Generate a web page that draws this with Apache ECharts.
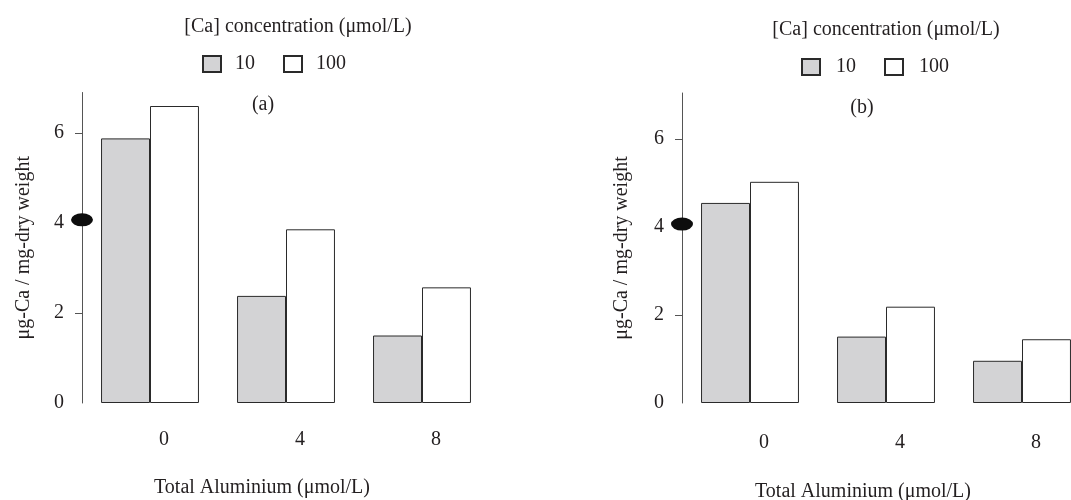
<!DOCTYPE html>
<html>
<head>
<meta charset="utf-8">
<script src="https://cdn.jsdelivr.net/npm/echarts@6/dist/echarts.min.js"></script>
<style>html,body{margin:0;padding:0;background:#fff}#c{width:1071px;height:500px}</style>
</head>
<body>
<div id="c"></div>
<script>
// ---- data ----
var categories = ['0', '4', '8'];
var seriesNames = ['10', '100'];
var panelA_ca10 = [5.88, 2.38, 1.5];
var panelA_ca100 = [6.6, 3.86, 2.57];
var panelB_ca10 = [4.55, 1.51, 0.96];
var panelB_ca100 = [5.03, 2.19, 1.45];
var markerValues = [4.07, 4.07];
var yTickValues = [0, 2, 4, 6];
var yMinorTicks = [2, 4, 6];
var panelLabels = ['(a)', '(b)'];
var legendTitle = '[Ca] concentration (\u03bcmol/L)';
var yAxisTitle = '\u03bcg-Ca / mg-dry weight';
var xAxisTitle = 'Total Aluminium (\u03bcmol/L)';

var FONT = "'Liberation Serif', 'Times New Roman', serif";
var TXT = '#231f20';
var GRAY = '#d3d3d5';
var EDGE = '#2a2a2a';

var chart = echarts.init(document.getElementById('c'), null, {renderer: 'canvas'});

function yAxis(gridIndex, max, gap) {
  return {
    type: 'value', gridIndex: gridIndex, min: 0, max: max,
    axisLine: {show: true, lineStyle: {color: '#555', width: 1}},
    axisTick: {show: true, length: 7, customValues: yMinorTicks, lineStyle: {color: '#555'}},
    axisLabel: {customValues: yTickValues, margin: 18, color: TXT, fontSize: 20, fontFamily: FONT},
    splitLine: {show: false},
    name: yAxisTitle, nameLocation: 'middle', nameGap: gap,
    nameTextStyle: {color: TXT, fontSize: 20, fontFamily: FONT}
  };
}
function xCat(gridIndex, margin) {
  return {
    type: 'category', gridIndex: gridIndex, data: categories,
    axisLine: {show: false}, axisTick: {show: false},
    axisLabel: {margin: margin, color: TXT, fontSize: 20, fontFamily: FONT, padding: [0, 0, 0, 28]}
  };
}
function xHidden(gridIndex) {
  return {type: 'value', gridIndex: gridIndex, min: 0, max: 1, show: false};
}
function bars(name, data, xi, yi, fill) {
  return {
    type: 'bar', name: name, data: data, xAxisIndex: xi, yAxisIndex: yi,
    barGap: '0%', barCategoryGap: '28%',
    itemStyle: {color: fill, borderColor: EDGE, borderWidth: 1},
    emphasis: {disabled: true}, animation: false
  };
}
function marker(v, xi, yi) {
  return {
    type: 'scatter', xAxisIndex: xi, yAxisIndex: yi, data: [[0, v]],
    symbol: 'circle', symbolSize: [22, 13], itemStyle: {color: '#0d0d0d', opacity: 1},
    animation: false, silent: true, z: 5
  };
}
function legend(left, top, padLeft) {
  return {
    left: left, top: top, padding: 0, itemWidth: 18, itemHeight: 16, itemGap: 28,
    icon: 'rect', data: seriesNames, selectedMode: false,
    textStyle: {color: TXT, fontSize: 20, fontFamily: FONT, padding: [0, 0, 0, padLeft]}
  };
}
function txt(s, x, y) {
  return {type: 'text', x: x, y: y, silent: true,
    style: {text: s, align: 'center', verticalAlign: 'middle', fontSize: 20, fontFamily: FONT, fill: TXT}};
}

chart.setOption({
  animation: false,
  backgroundColor: '#fff',
  grid: [
    {left: 82, top: 92.5, width: 408, height: 310.5, containLabel: false, outerBoundsMode: 'none'},
    {left: 682, top: 93, width: 408, height: 310, containLabel: false, outerBoundsMode: 'none'}
  ],
  xAxis: [xCat(0, 27), xCat(1, 30), xHidden(0), xHidden(1)],
  yAxis: [yAxis(0, 6.9, 48), yAxis(1, 7.05, 50)],
  legend: [legend(202, 54, 9), legend(801, 57, 11)],
  series: [
    bars(seriesNames[0], panelA_ca10, 0, 0, GRAY),
    bars(seriesNames[1], panelA_ca100, 0, 0, '#fff'),
    bars(seriesNames[0], panelB_ca10, 1, 1, GRAY),
    bars(seriesNames[1], panelB_ca100, 1, 1, '#fff'),
    marker(markerValues[0], 2, 0),
    marker(markerValues[1], 3, 1)
  ],
  graphic: [
    txt(legendTitle, 298, 27),
    txt(legendTitle, 886, 30),
    txt(panelLabels[0], 263, 105),
    txt(panelLabels[1], 862, 108),
    txt(xAxisTitle, 262, 488),
    txt(xAxisTitle, 863, 492)
  ]
});
</script>
</body>
</html>
